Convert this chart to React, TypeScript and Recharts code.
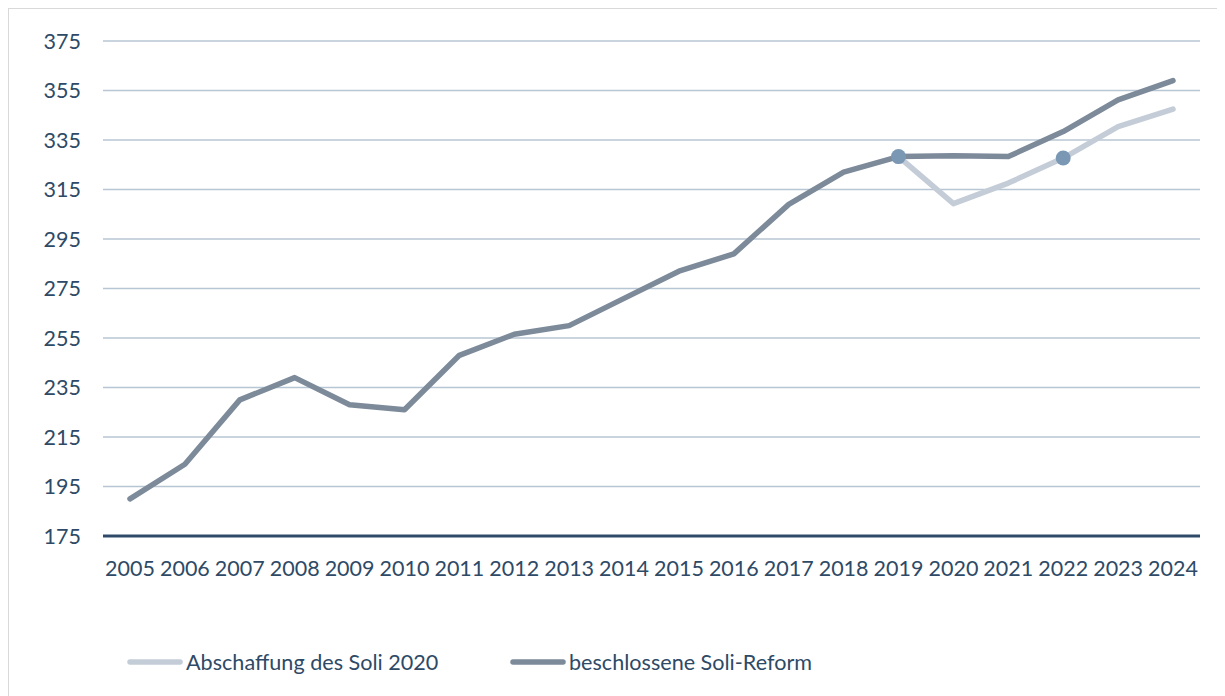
import React from "react";
import { LineChart, Line, XAxis, YAxis, CartesianGrid, Legend } from "recharts";

const years = ["2005","2006","2007","2008","2009","2010","2011","2012","2013","2014","2015","2016","2017","2018","2019","2020","2021","2022","2023","2024"];
const reform = [190, 204, 230, 239, 228, 226, 248, 256.5, 260, 271, 282, 289, 309, 322, 328.3, 328.6, 328.3, 338.4, 351.2, 359];
const abschaffung = [null, null, null, null, null, null, null, null, null, null, null, null, null, null, 328.3, 309.3, 317.6, 327.7, 340.4, 347.5];
const markedYears = ["2019", "2022"];
const yTicks = [175, 195, 215, 235, 255, 275, 295, 315, 335, 355, 375];

const seriesNames = { abschaffung: "Abschaffung des Soli 2020", reform: "beschlossene Soli-Reform" };

const data = years.map((y, i) => ({ year: y, reform: reform[i], abschaffung: abschaffung[i] }));

const TEXT = "#2E4A66";
const FONT = "Lato, 'Open Sans', sans-serif";

const DotMarker = (props: any) => {
  const { cx, cy, payload } = props;
  if (cx == null || cy == null || !markedYears.includes(payload.year)) return <g key={props.key} />;
  return <circle key={props.key} cx={cx} cy={cy} r={7.5} fill="#7A98B4" stroke="none" />;
};

const LegendContent = () => {
  const items = [
    { name: seriesNames.abschaffung, color: "#C4CDD7", x: 118 },
    { name: seriesNames.reform, color: "#7C8A9A", x: 501 },
  ];
  return (
    <div style={{ position: "relative", height: 30, fontFamily: FONT, fontSize: 21.6, color: TEXT }}>
      {items.map((it) => (
        <div key={it.name} style={{ position: "absolute", left: it.x, top: 0, display: "flex", alignItems: "center", whiteSpace: "nowrap" }}>
          <svg width={56} height={10} style={{ marginRight: 3 }}>
            <line x1={3} y1={5} x2={53} y2={5} stroke={it.color} strokeWidth={5.5} strokeLinecap="round" />
          </svg>
          <span>{it.name}</span>
        </div>
      ))}
    </div>
  );
};

export default function App() {
  return (
    <div style={{ width: 1216, height: 687, borderLeft: "1px solid #D9D9D9", borderTop: "1px solid #D9D9D9", background: "#fff", position: "relative" }}>
      <LineChart width={1216} height={687} data={data} margin={{ top: 32, right: 25, bottom: 70, left: 0 }}>
        <CartesianGrid vertical={false} stroke="#B7C6D4" strokeWidth={1.5} />
        <XAxis
          dataKey="year"
          height={60}
          tickLine={false}
          tickSize={0}
          tickMargin={25}
          padding={{ left: 27, right: 27 }}
          axisLine={{ stroke: "#2F4A68", strokeWidth: 3 }}
          tick={{ fill: TEXT, fontSize: 21.5, fontFamily: FONT }}
          interval={0}
        />
        <YAxis
          width={94}
          domain={[175, 375]}
          ticks={yTicks}
          axisLine={false}
          tickLine={false}
          tickSize={0}
          tickMargin={22}
          tick={{ fill: TEXT, fontSize: 21.5, fontFamily: FONT }}
          allowDataOverflow
        />
        <Line
          dataKey="reform"
          name={seriesNames.reform}
          stroke="#7C8A9A"
          strokeWidth={5.5}
          dot={false}
          isAnimationActive={false}
          strokeLinejoin="round"
          strokeLinecap="round"
        />
        <Line
          dataKey="abschaffung"
          name={seriesNames.abschaffung}
          stroke="#C4CDD7"
          strokeWidth={5.5}
          dot={DotMarker}
          activeDot={false}
          isAnimationActive={false}
          strokeLinejoin="round"
          strokeLinecap="round"
        />
        <Legend content={<LegendContent />} wrapperStyle={{ position: "absolute", top: 640, left: 0, width: 1216 }} />
      </LineChart>
    </div>
  );
}
